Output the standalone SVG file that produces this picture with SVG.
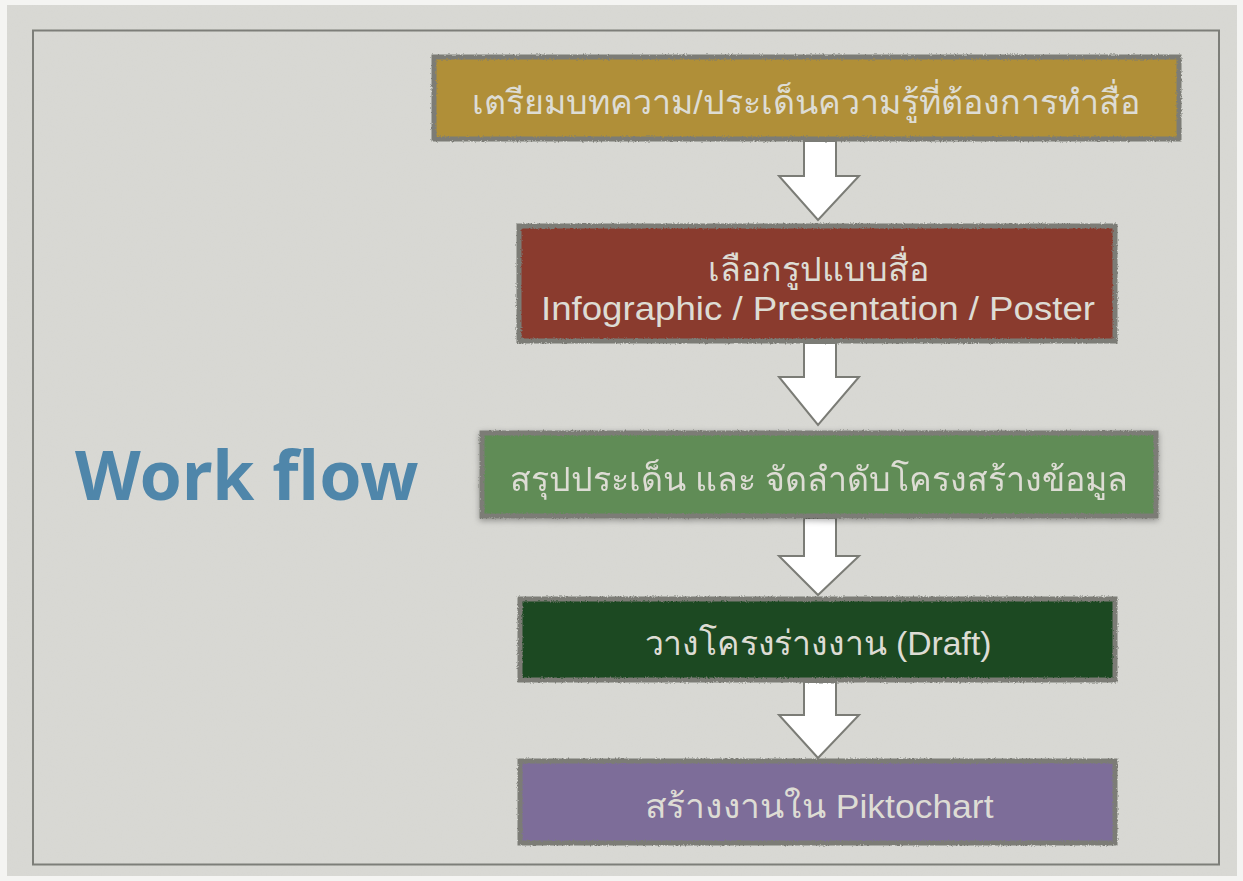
<svg xmlns="http://www.w3.org/2000/svg" width="1243" height="881" viewBox="0 0 1243 881">
<style>
.box{stroke:#7b7c76;stroke-width:5;filter:url(#rough)}
.t{font-family:"Liberation Sans","Noto Sans","DejaVu Sans",sans-serif;font-size:34px;fill:#dddcd4;text-anchor:middle}
.arrow{fill:#ffffff;stroke:#7b7c76;stroke-width:2;stroke-linejoin:miter}
</style>
<defs>
<filter id="rough" x="-5%" y="-10%" width="110%" height="120%">
<feTurbulence type="fractalNoise" baseFrequency="0.6" numOctaves="2" seed="3" result="n"/>
<feDisplacementMap in="SourceGraphic" in2="n" scale="3" xChannelSelector="R" yChannelSelector="G"/>
</filter>
<filter id="paper" x="0" y="0" width="100%" height="100%">
<feTurbulence type="fractalNoise" baseFrequency="0.8" numOctaves="3" seed="7" result="n"/>
<feColorMatrix in="n" type="matrix" values="0 0 0 0 0.5  0 0 0 0 0.5  0 0 0 0 0.5  0 0 0 0.06 0" result="g"/>
<feComposite in="g" in2="SourceGraphic" operator="in" result="gi"/>
<feMerge><feMergeNode in="SourceGraphic"/><feMergeNode in="gi"/></feMerge>
</filter>
<filter id="shadow" x="-5%" y="-20%" width="110%" height="140%">
<feGaussianBlur in="SourceAlpha" stdDeviation="3"/>
<feOffset dx="0" dy="2" result="b"/>
<feComponentTransfer><feFuncA type="linear" slope="0.35"/></feComponentTransfer>
<feMerge><feMergeNode/><feMergeNode in="SourceGraphic"/></feMerge>
</filter>
</defs>
<rect x="0" y="0" width="1243" height="881" fill="#f4f4f2"/>
<rect x="7" y="5" width="1230" height="871" fill="#d9d9d4" filter="url(#paper)"/>
<rect x="33" y="30.5" width="1186" height="834" fill="none" stroke="#7d7e79" stroke-width="2"/>

<g id="title">
<text x="75" y="500" font-family="'Noto Sans','Open Sans','DejaVu Sans',sans-serif" font-weight="bold" font-size="68" fill="#4f86aa">Work flow</text>
</g>

<g id="connectors">
<polygon class="arrow" points="804,141 836,141 836,176 859,176 818,220 779,176 804,176"/>
<polygon class="arrow" points="804,343 836,343 836,377 859,377 818,425 779,377 804,377"/>
<polygon class="arrow" points="804,518 836,518 836,556 859,556 818,595 779,556 804,556"/>
<polygon class="arrow" points="804,682 836,682 836,715 859,715 818,758 779,715 804,715"/>
</g>

<g id="n1">
<rect class="box" x="434" y="57" width="745" height="82" fill="#b08f37"/>
<text class="t" x="806" y="114">เตรียมบทความ/ประเด็นความรู้ที่ต้องการทำสื่อ</text>
</g>
<g id="n2">
<rect class="box" x="519" y="226" width="596" height="115" fill="#8a3b2f"/>
<text class="t" x="818" y="281">เลือกรูปแบบสื่อ</text>
<text class="t" x="818" y="320" textLength="554" lengthAdjust="spacingAndGlyphs">Infographic / Presentation / Poster</text>
</g>
<g id="n3" filter="url(#shadow)">
<rect class="box" x="482" y="433" width="674" height="83" fill="#608c56"/>
<text class="t" x="819" y="491">สรุปประเด็น และ จัดลำดับโครงสร้างข้อมูล</text>
</g>
<g id="n4">
<rect class="box" x="520" y="599" width="595" height="81" fill="#1e4822"/>
<text class="t" x="818" y="655" textLength="347" lengthAdjust="spacingAndGlyphs">วางโครงร่างงาน (Draft)</text>
</g>
<g id="n5">
<rect class="box" x="520" y="761" width="595" height="82" fill="#7d6d99"/>
<text class="t" x="819" y="818" textLength="349" lengthAdjust="spacingAndGlyphs">สร้างงานใน Piktochart</text>
</g>
</svg>
